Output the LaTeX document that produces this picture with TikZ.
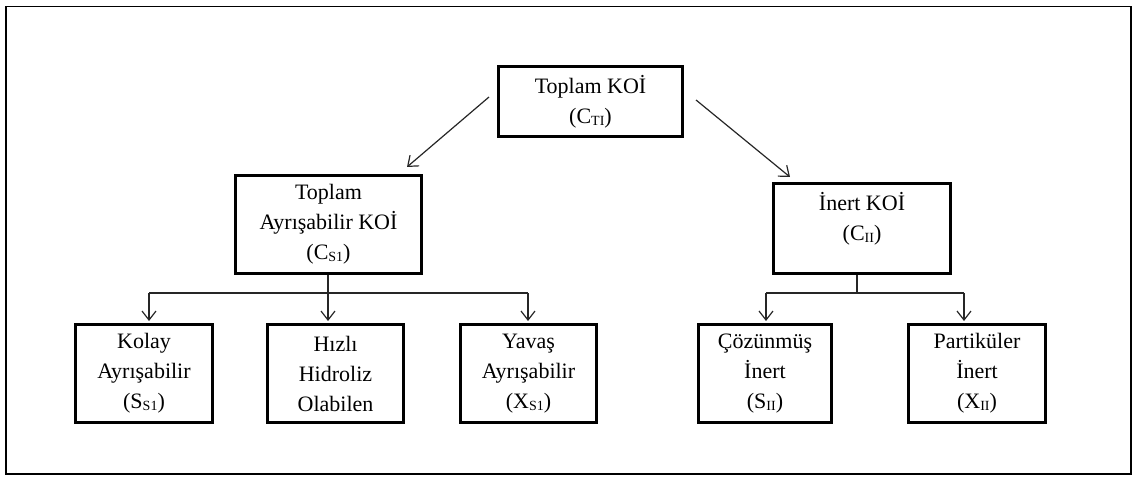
\documentclass[tikz,border=0pt]{standalone}
\usepackage{fontspec}
\setmainfont{Liberation Serif}
\usetikzlibrary{arrows.meta}
% subscript in the flow-chart labels
\newcommand\lowidx[1]{\raisebox{-2pt}{\fontsize{14}{14}\selectfont #1}}
\begin{document}
\begin{tikzpicture}[x=1pt,y=-1pt,
  box/.style={draw, line width=3.5pt, inner sep=0pt, align=center,
    font=\fontsize{22}{30}\selectfont},
  lbl/.style={inner sep=0pt, align=center, font=\fontsize{22}{30}\selectfont},
  conn/.style={line width=1.2pt, draw=black!85},
  arr/.style={conn, -{Straight Barb[length=9pt,width=14pt,line width=1.2pt]}},
]
\useasboundingbox (0,0) rectangle (1134,478);
\draw[line width=1.6pt] (6,6.5) rectangle (1131,474);

% top level
\node[box, minimum width=184pt, minimum height=70pt] (top) at (590.5,101.5)
  {Toplam KOİ\\(C\lowidx{TI})};

% second level
\node[box, minimum width=186pt, minimum height=98pt] (ts) at (328.5,224.5)
  {Toplam\\Ayrışabilir KOİ\\(C\lowidx{S1})};
\node[box, minimum width=177pt, minimum height=90pt] (ti) at (862,228.5) {};
\node[lbl] (titext) at (862,218.5) {İnert KOİ\\(C\lowidx{II})};

% third level
\node[box, minimum width=137pt, minimum height=98pt] (ka) at (144,373.5)
  {Kolay\\Ayrışabilir\\(S\lowidx{S1})};
\node[box, minimum width=136pt, minimum height=98pt] (hh) at (335.5,373.5)
  {Hızlı\\Hidroliz\\Olabilen};
\node[box, minimum width=136pt, minimum height=98pt] (ya) at (528.5,373.5)
  {Yavaş\\Ayrışabilir\\(X\lowidx{S1})};
\node[box, minimum width=133pt, minimum height=98pt] (ci) at (765,373.5)
  {Çözünmüş\\İnert\\(S\lowidx{II})};
\node[box, minimum width=137pt, minimum height=98pt] (pi) at (977,373.5)
  {Partiküler\\İnert\\(X\lowidx{II})};

% diagonal arrows from the top box
\coordinate (tl) at (489,97);
\coordinate (tle) at (407,167);
\coordinate (tr) at (696,100);
\coordinate (tre) at (790,177);
\draw[arr] (tl) -- (tle);
\draw[arr] (tr) -- (tre);

% left branch bus
\coordinate (lj) at (328,293);
\coordinate (lbL) at (149,293);
\coordinate (lbR) at (528,293);
\draw[conn] (lj |- ts.south) -- (lj);
\draw[conn] (lbL) -- (lbR);
\draw[arr, shorten >=1.75pt] (lbL) -- (lbL |- ka.north);
\draw[arr, shorten >=1.75pt] (lj) -- (lj |- hh.north);
\draw[arr, shorten >=1.75pt] (lbR) -- (lbR |- ya.north);

% right branch bus
\coordinate (rj) at (857,293);
\coordinate (rbL) at (766,293);
\coordinate (rbR) at (964,293);
\draw[conn] (rj |- ti.south) -- (rj);
\draw[conn] (rbL) -- (rbR);
\draw[arr, shorten >=1.75pt] (rbL) -- (rbL |- ci.north);
\draw[arr, shorten >=1.75pt] (rbR) -- (rbR |- pi.north);
\end{tikzpicture}
\end{document}
